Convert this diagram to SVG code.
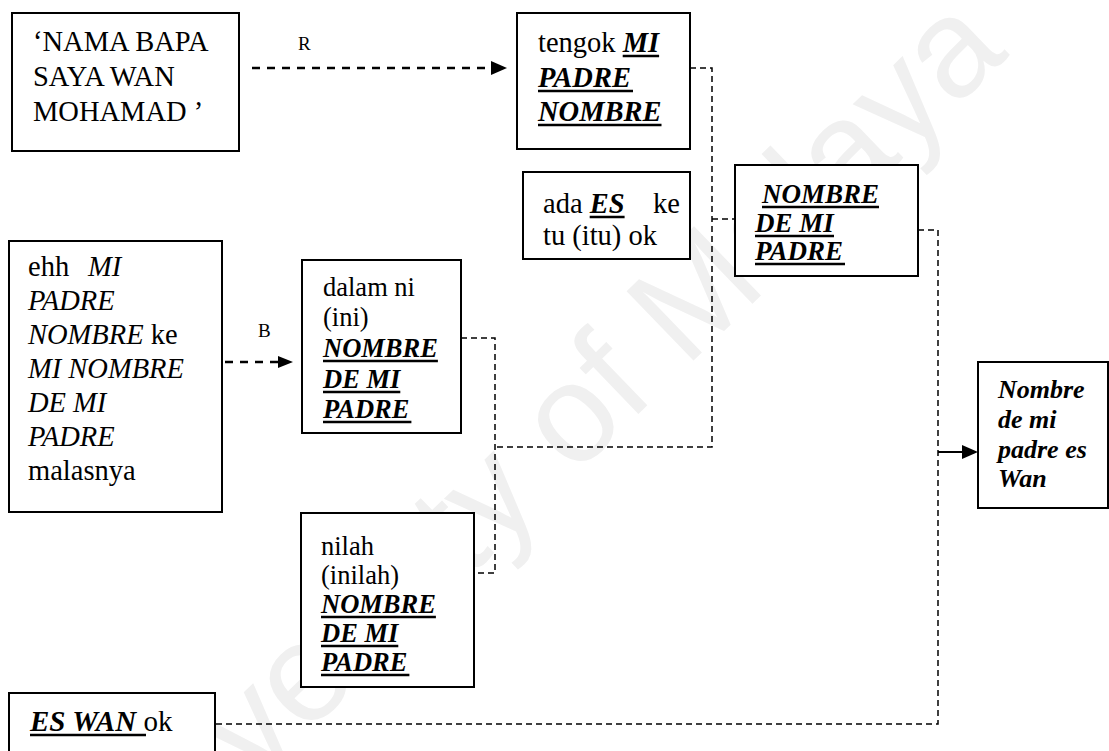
<svg xmlns="http://www.w3.org/2000/svg" width="1109" height="751" viewBox="0 0 1109 751">
<style>
.box{fill:#fff;stroke:#000;stroke-width:2}
.t{font-family:"Liberation Serif","Times New Roman",serif;fill:#000}
.bi{font-weight:bold;font-style:italic}
.i{font-style:italic}
.ul{stroke:#000;stroke-width:2.5}
.dl{fill:none;stroke:#000;stroke-width:1.5;stroke-dasharray:6 4}
.dh{fill:none;stroke:#000;stroke-width:2.5;stroke-dasharray:8 7}
.sl{fill:none;stroke:#000;stroke-width:2}
.wm{font-family:"Liberation Sans",Arial,sans-serif;font-size:140px;fill:#f0f0f0}
</style>
<rect width="1109" height="751" fill="#fff"/>
<text class="wm" x="1010" y="55" text-anchor="end" transform="rotate(-44 1010 55)">University of Malaya</text>

<g id="connectors">
  <path class="dh" d="M252,68 H491"/>
  <polygon points="491,61 507,68 491,75"/>
  <text class="t" x="298" y="50" font-size="19">R</text>
  <path class="dh" d="M225,362 H278"/>
  <polygon points="278,356 293,362 278,368"/>
  <text class="t" x="258" y="337" font-size="19">B</text>
  <path class="dl" d="M690,68 H712 V447 H495"/>
  <path class="dl" d="M712,219 H735"/>
  <path class="dl" d="M461,338 H495 V573 H474"/>
  <path class="dl" d="M918,230 H938 V724 H215"/>
  <path class="sl" d="M938,452 H963"/>
  <polygon points="962,445 978,452 962,459"/>
</g>

<g id="n1">
  <rect class="box" x="12" y="13" width="227" height="138"/>
  <text class="t" font-size="28.5"><tspan x="33" y="51">‘NAMA BAPA</tspan><tspan x="33" y="86">SAYA WAN</tspan><tspan x="33" y="121">MOHAMAD ’</tspan></text>
</g>

<g id="n2">
  <rect class="box" x="517" y="13" width="173" height="136"/>
  <text class="t" font-size="28.5"><tspan x="538" y="52">tengok <tspan class="bi">MI</tspan></tspan><tspan class="bi" x="538" y="87">PADRE</tspan><tspan class="bi" x="538" y="121">NOMBRE</tspan></text>
  <line class="ul" x1="622.7" y1="56" x2="659.1" y2="56"/>
  <line class="ul" x1="538" y1="91" x2="633" y2="91"/>
  <line class="ul" x1="538" y1="125" x2="661.5" y2="125"/>
</g>

<g id="n3">
  <rect class="box" x="523" y="172" width="167" height="87"/>
  <text class="t" font-size="28.5"><tspan x="543" y="213">ada <tspan class="bi">ES</tspan></tspan><tspan x="653" y="213">ke</tspan><tspan x="543" y="245">tu (itu) ok</tspan></text>
  <line class="ul" x1="589.7" y1="217" x2="624.6" y2="217"/>
</g>

<g id="n4">
  <rect class="box" x="735" y="165" width="183" height="111"/>
  <text class="t bi" font-size="27"><tspan x="762" y="203">NOMBRE</tspan><tspan x="755" y="232">DE MI</tspan><tspan x="755" y="260">PADRE</tspan></text>
  <line class="ul" x1="762" y1="207" x2="879" y2="207"/>
  <line class="ul" x1="755" y1="236" x2="834" y2="236"/>
  <line class="ul" x1="755" y1="264" x2="845" y2="264"/>
</g>

<g id="n5">
  <rect class="box" x="9" y="241" width="213" height="271"/>
  <text class="t" font-size="28.5"><tspan x="28" y="276">ehh</tspan><tspan class="i" x="88" y="276">MI</tspan><tspan class="i" x="28" y="310">PADRE</tspan><tspan x="28" y="344"><tspan class="i">NOMBRE</tspan> ke</tspan><tspan class="i" x="28" y="378">MI NOMBRE</tspan><tspan class="i" x="28" y="412">DE MI</tspan><tspan class="i" x="28" y="446">PADRE</tspan><tspan x="28" y="480">malasnya</tspan></text>
</g>

<g id="n6">
  <rect class="box" x="302" y="260" width="159" height="173"/>
  <text class="t" font-size="26.5"><tspan x="323" y="296">dalam ni</tspan><tspan x="323" y="326">(ini)</tspan><tspan class="bi" x="323" y="357">NOMBRE</tspan><tspan class="bi" x="323" y="388">DE MI</tspan><tspan class="bi" x="323" y="418">PADRE</tspan></text>
  <line class="ul" x1="323" y1="361" x2="437.9" y2="361"/>
  <line class="ul" x1="323" y1="392" x2="400.3" y2="392"/>
  <line class="ul" x1="323" y1="422" x2="411.4" y2="422"/>
</g>

<g id="n7">
  <rect class="box" x="301" y="513" width="173" height="174"/>
  <text class="t" font-size="26.5"><tspan x="321" y="555">nilah</tspan><tspan x="321" y="584">(inilah)</tspan><tspan class="bi" x="321" y="613">NOMBRE</tspan><tspan class="bi" x="321" y="642">DE MI</tspan><tspan class="bi" x="321" y="671">PADRE</tspan></text>
  <line class="ul" x1="321" y1="617" x2="435.9" y2="617"/>
  <line class="ul" x1="321" y1="646" x2="398.3" y2="646"/>
  <line class="ul" x1="321" y1="675" x2="409.4" y2="675"/>
</g>

<g id="n8">
  <rect class="box" x="9" y="693" width="206" height="70"/>
  <text class="t" font-size="29" x="30" y="731"><tspan class="bi">ES WAN</tspan> ok</text>
  <line class="ul" x1="30" y1="735" x2="146" y2="735"/>
</g>

<g id="n9">
  <rect class="box" x="978" y="362" width="130" height="146"/>
  <text class="t bi" font-size="26"><tspan x="998" y="398">Nombre</tspan><tspan x="998" y="428">de mi</tspan><tspan x="998" y="458">padre es</tspan><tspan x="998" y="487">Wan</tspan></text>
</g>
</svg>
